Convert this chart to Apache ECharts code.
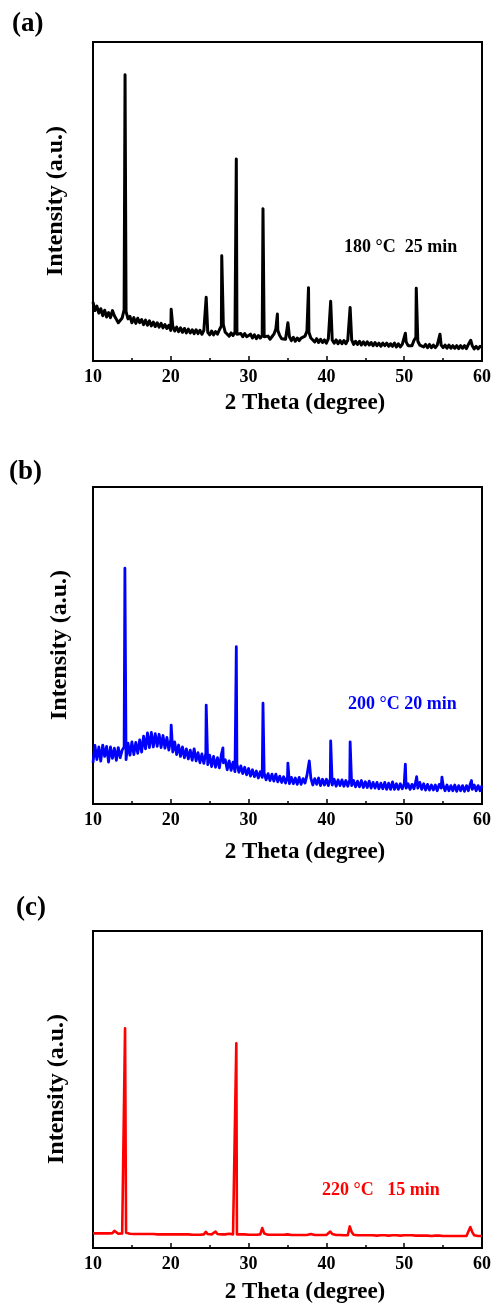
<!DOCTYPE html>
<html>
<head>
<meta charset="utf-8">
<script src="https://cdn.jsdelivr.net/npm/echarts@6/dist/echarts.min.js"></script>
<style>
html,body{margin:0;padding:0;background:#fff;}
#chart{width:494px;height:1313px;}
</style>
</head>
<body>
<div id="chart"></div>
<script>
// x sampling of the background traces (degrees 2θ)
const X_START = 10, X_STEP = 0.25;
const xTicks = [10, 20, 30, 40, 50, 60];

// Panel (a) 180 °C 25 min — background intensity (a.u., % of frame height)
const bgA = [
  18.5, 15.8, 17.2, 15.0, 16.4, 14.2, 15.9, 13.8, 15.2, 13.6, 15.8, 14.2, 14.6, 12.0, 11.6, 13.5, 16.0, 15.5, 13.2, 14.0,
  12.0, 13.6, 11.8, 13.4, 12.0, 13.0, 11.4, 12.8, 11.2, 12.6, 11.0, 12.2, 10.8, 12.0, 10.6, 11.8, 10.4, 11.4, 10.2, 11.2,
  9.6, 11.0, 9.4, 10.6, 9.2, 10.4, 9.0, 10.2, 8.8, 10.0, 8.8, 9.8, 8.6, 9.8, 8.6, 9.6, 8.4, 9.6, 9.8, 9.0,
  8.2, 9.4, 8.2, 9.2, 8.4, 9.8, 11.0, 11.4, 9.0, 8.6, 7.8, 8.8, 8.0, 9.0, 8.4, 7.8, 8.6, 7.6, 8.6, 7.6,
  7.4, 8.4, 7.2, 8.2, 7.0, 8.0, 7.2, 8.0, 7.6, 7.0, 7.8, 6.8, 7.6, 8.4, 10.0, 9.6, 8.0, 7.0, 7.6, 6.8,
  7.4, 7.6, 6.4, 7.4, 6.2, 7.2, 6.4, 7.2, 6.6, 7.8, 9.4, 9.0, 7.2, 6.6, 6.0, 7.0, 5.8, 6.8, 5.8, 6.6,
  5.6, 7.0, 7.4, 6.6, 5.6, 6.6, 5.4, 6.4, 5.4, 6.4, 5.4, 6.6, 7.0, 6.6, 5.2, 6.2, 5.2, 6.2, 5.0, 6.0,
  5.0, 6.0, 5.0, 5.8, 4.8, 5.8, 4.8, 5.6, 4.6, 5.6, 4.8, 5.6, 4.6, 5.4, 4.6, 5.6, 4.4, 5.4, 4.4, 5.2,
  4.8, 6.0, 4.8, 5.4, 4.8, 6.4, 7.4, 6.2, 5.0, 5.6, 4.4, 5.2, 4.2, 5.2, 4.2, 5.0, 4.2, 5.0, 5.6, 5.0,
  4.2, 5.0, 4.0, 5.0, 4.0, 4.8, 4.0, 4.8, 3.9, 4.8, 4.0, 4.8, 3.9, 5.2, 4.6, 4.8, 3.8, 4.6, 3.8, 4.6,
  4.4
];
const peaksA = [[12.7, 15.6], [14.12, 89.7], [20.05, 16.2], [24.55, 20.0], [26.55, 33.0], [28.42, 63.3],
  [31.85, 47.7], [33.7, 14.7], [35.05, 12.0], [37.7, 23.0], [40.55, 18.7], [43.05, 16.8],
  [50.15, 8.7], [51.55, 22.8], [54.6, 8.4], [58.55, 6.5]];

// Panel (b) 200 °C 20 min
const bgB = [
  13.0, 18.5, 14.0, 18.0, 13.5, 18.6, 15.0, 18.2, 13.2, 18.0, 14.4, 17.6, 13.8, 17.8, 14.6, 17.0, 18.0, 14.0, 19.2, 15.4,
  19.6, 15.6, 19.4, 16.0, 20.2, 16.4, 21.4, 17.4, 22.4, 17.8, 22.6, 18.0, 22.2, 18.2, 22.0, 17.8, 21.6, 17.6, 21.0, 17.0,
  20.4, 16.4, 19.6, 15.6, 18.6, 15.0, 18.0, 14.6, 17.4, 14.2, 17.0, 13.8, 17.4, 13.6, 16.2, 13.0, 15.8, 12.8, 16.0, 12.4,
  15.4, 11.8, 15.0, 11.6, 14.6, 11.4, 15.6, 13.0, 14.0, 10.8, 13.6, 10.6, 13.2, 10.2, 12.6, 10.0, 12.0, 9.6, 11.6, 9.2,
  11.2, 8.8, 10.8, 8.6, 10.4, 8.2, 10.2, 8.4, 9.8, 7.6, 9.6, 7.4, 9.4, 7.2, 9.4, 7.0, 8.8, 6.8, 8.6, 6.6,
  8.6, 6.4, 8.4, 6.4, 8.2, 6.2, 8.4, 6.2, 8.0, 6.6, 9.0, 8.4, 8.2, 6.0, 8.0, 6.2, 8.2, 5.8, 7.8, 6.0,
  7.8, 5.8, 8.0, 6.0, 7.8, 5.6, 7.6, 5.8, 7.6, 5.6, 7.4, 5.6, 7.6, 5.8, 7.4, 5.4, 7.2, 5.4, 7.4, 5.2,
  7.0, 5.2, 7.2, 5.0, 6.8, 5.0, 6.8, 4.8, 6.6, 4.8, 6.8, 4.6, 6.6, 4.6, 7.0, 4.6, 6.4, 4.6, 6.4, 4.8,
  6.4, 5.0, 6.4, 4.6, 6.2, 4.8, 7.2, 5.0, 6.8, 4.6, 6.4, 4.4, 6.2, 4.4, 6.0, 4.4, 6.0, 4.2, 6.2, 5.0,
  6.0, 4.2, 6.0, 4.2, 5.8, 4.2, 6.0, 4.0, 5.8, 4.2, 5.8, 4.0, 5.8, 4.2, 6.4, 4.6, 6.0, 4.2, 5.8, 4.2,
  5.8
];
const peaksB = [[14.1, 74.4], [20.05, 24.9], [24.55, 31.2], [26.7, 17.7], [28.42, 49.6], [31.85, 31.8],
  [35.05, 12.9], [37.8, 13.6], [40.55, 19.9], [43.05, 19.6], [50.15, 12.6], [51.6, 8.6],
  [54.85, 8.5], [58.65, 7.4]];

// Panel (c) 220 °C 15 min
const bgC = [
  4.6, 4.5, 4.6, 4.5, 4.6, 4.5, 4.6, 4.5, 4.6, 4.5, 4.7, 5.4, 4.8, 4.5, 4.5, 4.6, 4.8, 4.8, 4.5, 4.5,
  4.5, 4.4, 4.5, 4.4, 4.5, 4.4, 4.5, 4.4, 4.4, 4.4, 4.4, 4.4, 4.4, 4.3, 4.4, 4.3, 4.4, 4.3, 4.4, 4.3,
  4.4, 4.3, 4.4, 4.3, 4.3, 4.3, 4.3, 4.3, 4.3, 4.3, 4.3, 4.2, 4.3, 4.2, 4.3, 4.2, 4.3, 4.3, 5.1, 4.4,
  4.3, 4.3, 4.4, 5.2, 4.4, 4.3, 4.3, 4.3, 4.3, 4.4, 4.5, 4.3, 4.3, 4.2, 4.3, 4.2, 4.3, 4.2, 4.3, 4.2,
  4.2, 4.2, 4.2, 4.2, 4.2, 4.2, 4.3, 6.3, 4.6, 4.3, 4.2, 4.2, 4.2, 4.2, 4.2, 4.1, 4.2, 4.1, 4.2, 4.1,
  4.3, 4.2, 4.1, 4.1, 4.1, 4.1, 4.1, 4.1, 4.1, 4.2, 4.1, 4.2, 4.4, 4.2, 4.1, 4.1, 4.1, 4.1, 4.1, 4.1,
  4.1, 4.1, 5.2, 4.4, 4.1, 4.1, 4.1, 4.1, 4.1, 4.0, 4.1, 4.0, 6.8, 5.0, 4.2, 4.1, 4.0, 4.0, 4.0, 4.0,
  4.0, 4.0, 4.0, 3.9, 4.0, 4.0, 3.9, 4.0, 4.0, 3.9, 4.0, 4.0, 3.9, 4.0, 4.0, 3.9, 4.0, 4.0, 3.9, 4.0,
  4.0, 4.3, 4.0, 3.9, 4.0, 3.9, 3.9, 4.1, 3.9, 3.9, 3.9, 3.8, 3.9, 3.9, 3.8, 3.9, 3.9, 3.8, 3.9, 3.9,
  3.8, 3.9, 3.8, 3.9, 3.8, 3.9, 3.8, 3.9, 3.8, 3.9, 3.8, 3.9, 3.8, 3.9, 6.6, 5.0, 4.0, 3.9, 3.8, 3.8,
  3.8
];
const peaksC = [[14.12, 69.3], [28.42, 64.6]];

const panelLabels = ['(a)', '(b)', '(c)'];
const sampleLabels = ['180 °C  25 min', '200 °C 20 min', '220 °C   15 min'];
const colors = ['#000000', '#0000ff', '#ff0000'];
const xTitle = '2 Theta (degree)';
const yTitle = 'Intensity (a.u.)';

function build(bg, peaks) {
  const pts = bg.map((y, i) => [X_START + i * X_STEP, y]);
  return pts.concat(peaks).sort((p, q) => p[0] - q[0]);
}
const traces = [build(bgA, peaksA), build(bgB, peaksB), build(bgC, peaksC)];

const FONT = "'Liberation Serif', 'Times New Roman', serif";
const grids = [
  {left: 93, top: 42, width: 390, height: 319},
  {left: 93, top: 487, width: 390, height: 317},
  {left: 93, top: 931, width: 390, height: 317}
];
const labelPos = [[12, 27], [9, 475], [16, 911]];
const samplePos = [[344, 247], [348, 704], [322, 1190]];
const xTitlePos = [403, 852, 1292];
const yTitlePos = [[56, 201], [60, 645], [57, 1089]];
const lineWidths = [3, 2.8, 2.6];

const chart = echarts.init(document.getElementById('chart'), null, {renderer: 'canvas'});
const option = {
  animation: false,
  backgroundColor: '#fff',
  grid: grids.map(g => Object.assign({show: true, borderColor: '#000', borderWidth: 2, backgroundColor: 'transparent'}, g)),
  xAxis: grids.map((g, i) => ({
    type: 'value', gridIndex: i, min: xTicks[0], max: xTicks[xTicks.length - 1], interval: 10,
    axisLine: {show: true, lineStyle: {color: '#000', width: 2}},
    axisTick: {show: true, inside: true, length: 5, lineStyle: {color: '#000', width: 1.5}},
    minorTick: {show: true, splitNumber: 2, length: 3, lineStyle: {color: '#000', width: 1.5}},
    axisLabel: {color: '#000', fontFamily: FONT, fontWeight: 'bold', fontSize: 18, margin: 7},
    splitLine: {show: false}
  })),
  yAxis: grids.map((g, i) => ({
    type: 'value', gridIndex: i, min: 0, max: 100,
    axisLine: {show: false}, axisTick: {show: false}, axisLabel: {show: false}, splitLine: {show: false}
  })),
  series: traces.map((d, i) => ({
    type: 'line', xAxisIndex: i, yAxisIndex: i, data: d, showSymbol: false, clip: true,
    lineStyle: {color: colors[i], width: lineWidths[i], join: 'round'}
  })),
  graphic: [].concat(
    panelLabels.map((t, i) => ({type: 'text', left: labelPos[i][0], top: labelPos[i][1] - 16,
      style: {text: t, font: "bold 27px " + FONT, fill: '#000'}})),
    sampleLabels.map((t, i) => ({type: 'text', x: samplePos[i][0], y: samplePos[i][1],
      style: {text: t, font: "bold 18px " + FONT, fill: colors[i], textVerticalAlign: 'middle', textAlign: 'left'}})),
    xTitlePos.map(y => ({type: 'text', x: 305, y: y,
      style: {text: xTitle, font: "bold 23px " + FONT, fill: '#000', textAlign: 'center', textVerticalAlign: 'middle'}})),
    yTitlePos.map(p => ({type: 'text', x: p[0], y: p[1], rotation: Math.PI / 2,
      style: {text: yTitle, font: "bold 24px " + FONT, fill: '#000', textAlign: 'center', textVerticalAlign: 'middle'}}))
  )
};
chart.setOption(option);
</script>
</body>
</html>
